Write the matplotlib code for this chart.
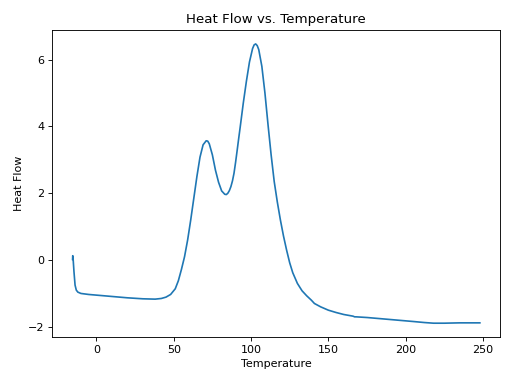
import matplotlib
matplotlib.use("Agg")
import matplotlib.pyplot as plt

# Values
temperature = [
    -15.4, -15.3, -15.0, -14.5, -13.8, -13.0, -12.0, -10.0, -5, 0, 10, 20, 30,
    38, 42, 45, 48, 51, 53, 55, 57, 59, 61, 63, 65, 67, 69, 71, 72, 73, 75, 77,
    79, 81, 83, 84, 85, 86, 87, 88, 89, 90, 91, 92, 93, 95, 97, 99, 101, 102,
    103, 104, 105, 107, 109, 111, 113, 115, 117, 119, 121, 123, 125, 127, 130,
    133, 136, 139, 140, 141, 145, 150, 155, 160, 166, 167, 168, 175, 185, 195,
    205, 212, 218, 225, 235, 248,
]
heat_flow = [
    0.02, 0.13, 0.0, -0.35, -0.75, -0.9, -0.96, -1.0, -1.03, -1.05, -1.09,
    -1.13, -1.16, -1.17, -1.15, -1.11, -1.03, -0.86, -0.62, -0.28, 0.1, 0.6,
    1.2, 1.85, 2.5, 3.08, 3.45, 3.57, 3.56, 3.48, 3.15, 2.69, 2.33, 2.07, 1.97,
    1.96, 2.0, 2.08, 2.2, 2.37, 2.6, 2.92, 3.27, 3.63, 3.98, 4.7, 5.35, 5.93,
    6.33, 6.44, 6.47, 6.42, 6.3, 5.8, 5.0, 4.05, 3.15, 2.35, 1.74, 1.2, 0.72,
    0.3, -0.08, -0.38, -0.7, -0.92, -1.07, -1.2, -1.25, -1.3, -1.4, -1.5,
    -1.57, -1.63, -1.68, -1.7, -1.7, -1.72, -1.76, -1.8, -1.84, -1.87, -1.89,
    -1.89, -1.88, -1.88,
]

fig = plt.figure(figsize=(6.4, 4.8), dpi=80)
ax = fig.add_subplot(111)
ax.plot(temperature, heat_flow, color="#1f77b4")
ax.set_title("Heat Flow vs. Temperature")
ax.set_xlabel("Temperature")
ax.set_ylabel("Heat Flow")
fig.subplots_adjust(left=0.102, right=0.977, top=0.922, bottom=0.122)
fig.savefig("out.png", dpi=80)
